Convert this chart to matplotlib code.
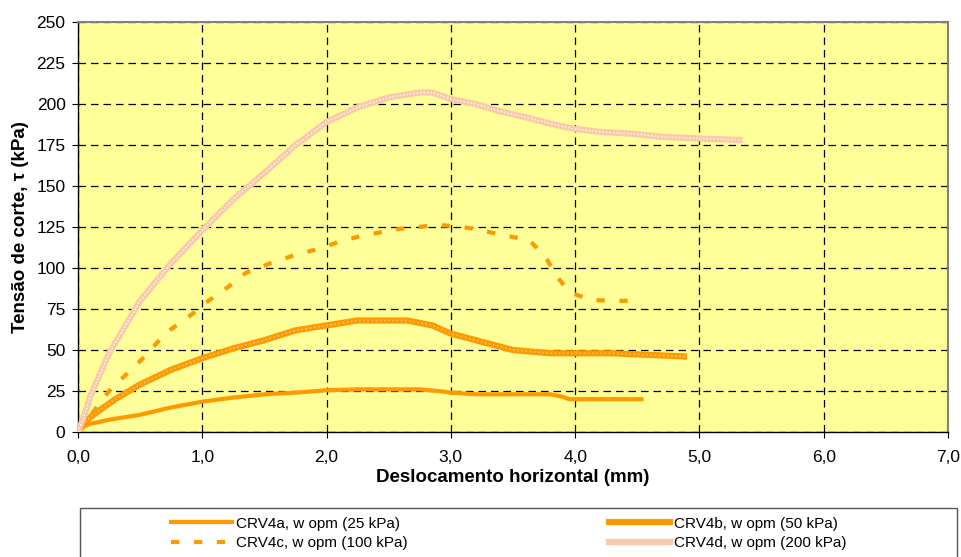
import matplotlib
matplotlib.use("Agg")
import matplotlib.pyplot as plt
from matplotlib.patches import Rectangle
from matplotlib.lines import Line2D

plt.rcParams['font.family'] = ['Liberation Sans', 'DejaVu Sans']

# ---- data ----
x_a = [0.0, 0.05, 0.1, 0.25, 0.5, 0.75, 1.0, 1.25, 1.5, 1.75, 2.0, 2.25, 2.5, 2.75, 2.9, 3.0, 3.2, 3.5, 3.8, 3.9, 3.95, 4.2, 4.55]
y_a = [0.0, 3.5, 5.0, 7.5, 10.5, 15.0, 18.5, 21.0, 23.0, 24.0, 25.5, 26.0, 26.0, 26.0, 25.0, 24.0, 23.0, 23.0, 23.0, 21.5, 20.0, 20.0, 20.0]

x_b = [0.0, 0.05, 0.15, 0.3, 0.5, 0.75, 1.0, 1.25, 1.5, 1.75, 2.0, 2.25, 2.5, 2.65, 2.85, 3.0, 3.25, 3.5, 3.8, 4.0, 4.3, 4.6, 4.9]
y_b = [0.0, 6.0, 12.0, 20.0, 29.0, 38.0, 45.0, 51.0, 56.0, 62.0, 65.0, 68.0, 68.0, 68.0, 65.0, 60.0, 55.0, 50.0, 48.0, 48.0, 48.0, 47.0, 46.0]

x_c = [0.0, 0.1, 0.25, 0.55, 0.7, 0.92, 1.05, 1.2, 1.35, 1.55, 1.75, 1.95, 2.1, 2.25, 2.45, 2.6, 2.8, 2.95, 3.1, 3.3, 3.49, 3.63, 3.76, 3.85, 3.96, 4.13, 4.3, 4.47]
y_c = [0.0, 10.0, 25.0, 47.0, 60.0, 72.0, 80.0, 88.0, 97.0, 103.0, 108.0, 112.0, 116.0, 119.0, 122.0, 124.0, 125.5, 126.0, 125.0, 122.0, 119.0, 117.0, 107.0, 95.0, 85.0, 80.5, 80.0, 80.0]

x_d = [0.0, 0.05, 0.1, 0.25, 0.5, 0.75, 1.0, 1.25, 1.5, 1.75, 2.0, 2.25, 2.5, 2.75, 2.85, 3.0, 3.2, 3.37, 3.6, 3.8, 3.98, 4.2, 4.44, 4.7, 4.98, 5.35]
y_d = [0.0, 10.0, 22.0, 48.0, 80.0, 103.0, 123.0, 142.0, 158.0, 175.0, 189.0, 198.0, 204.0, 207.0, 207.0, 203.0, 200.0, 196.0, 192.0, 188.0, 185.0, 183.0, 182.0, 180.0, 179.0, 178.0]

labels = ["CRV4a, w opm (25 kPa)", "CRV4b, w opm (50 kPa)",
          "CRV4c, w opm (100 kPa)", "CRV4d, w opm (200 kPa)"]

xticks = [0, 1, 2, 3, 4, 5, 6, 7]
xticklabels = ["0,0", "1,0", "2,0", "3,0", "4,0", "5,0", "6,0", "7,0"]
yticks = [0, 25, 50, 75, 100, 125, 150, 175, 200, 225, 250]

ORANGE = '#FF9900'
PALE = '#F9C9AA'

W, H = 962, 557
fig = plt.figure(figsize=(W / 100, H / 100), dpi=100)
ax = fig.add_axes([78 / W, (H - 432) / H, 870 / W, 410 / H])
ax.set_facecolor('#FFFF99')

ax.plot(x_a, y_a, color=ORANGE, lw=3, solid_capstyle='butt', zorder=3)
ax.plot(x_b, y_b, color=ORANGE, lw=4.5, solid_capstyle='butt', zorder=3)
ax.plot(x_b, y_b, color='#FFC070', lw=1.2, ls=(0, (1, 1.5)), zorder=3)
ax.plot(x_c, y_c, color=ORANGE, lw=3, ls=(0, (2, 3.5)), dash_capstyle='butt', zorder=3)
ax.plot(x_d, y_d, color=PALE, lw=4.5, solid_capstyle='butt', zorder=3)
ax.plot(x_d, y_d, color='white', lw=1.0, ls=(0, (1, 1.5)), zorder=3)

ax.set_xlim(0, 7)
ax.set_ylim(0, 250)
ax.set_xticks(xticks)
ax.set_xticklabels(xticklabels)
ax.set_yticks(yticks)
ax.tick_params(labelsize=12.5, length=4, direction='out', color='black')
ax.tick_params(axis='x', pad=9)
ax.tick_params(axis='y', pad=5)
ax.grid(True, color='black', ls=(0, (6, 4)), lw=0.9)
ax.set_axisbelow(True)
for s in ['top', 'right']:
    ax.spines[s].set_color('#808080')
    ax.spines[s].set_linewidth(1.5)
for s in ['left', 'bottom']:
    ax.spines[s].set_color('black')
    ax.spines[s].set_linewidth(1)

ax.set_xlabel("Deslocamento horizontal (mm)", fontsize=13.5, fontweight='bold', labelpad=3)
ax.set_ylabel("Tensão de corte, τ (kPa)", fontsize=13.5, fontweight='bold', labelpad=5)

# legend frame
fig.patches.append(Rectangle((80 / W, -0.01), 877 / W, (557 - 508) / H + 0.01,
                             transform=fig.transFigure, facecolor='white',
                             edgecolor='#555555', lw=1))

h_a = Line2D([], [], color=ORANGE, lw=3)
h_b = Line2D([], [], color=ORANGE, lw=4.5)
h_c = Line2D([], [], color=ORANGE, lw=3, ls=(0, (2, 3.5)))
h_d = Line2D([], [], color=PALE, lw=4.5)
leg = fig.legend([h_a, h_c, h_b, h_d], [labels[0], labels[2], labels[1], labels[3]],
                 ncol=2, loc='upper left', bbox_to_anchor=(160 / W, 1 - 506 / H),
                 frameon=False, fontsize=11, handlelength=4.0, handletextpad=0.25,
                 columnspacing=13.2, labelspacing=0.35, borderpad=0.2)

fig.savefig("out.png", dpi=100)
